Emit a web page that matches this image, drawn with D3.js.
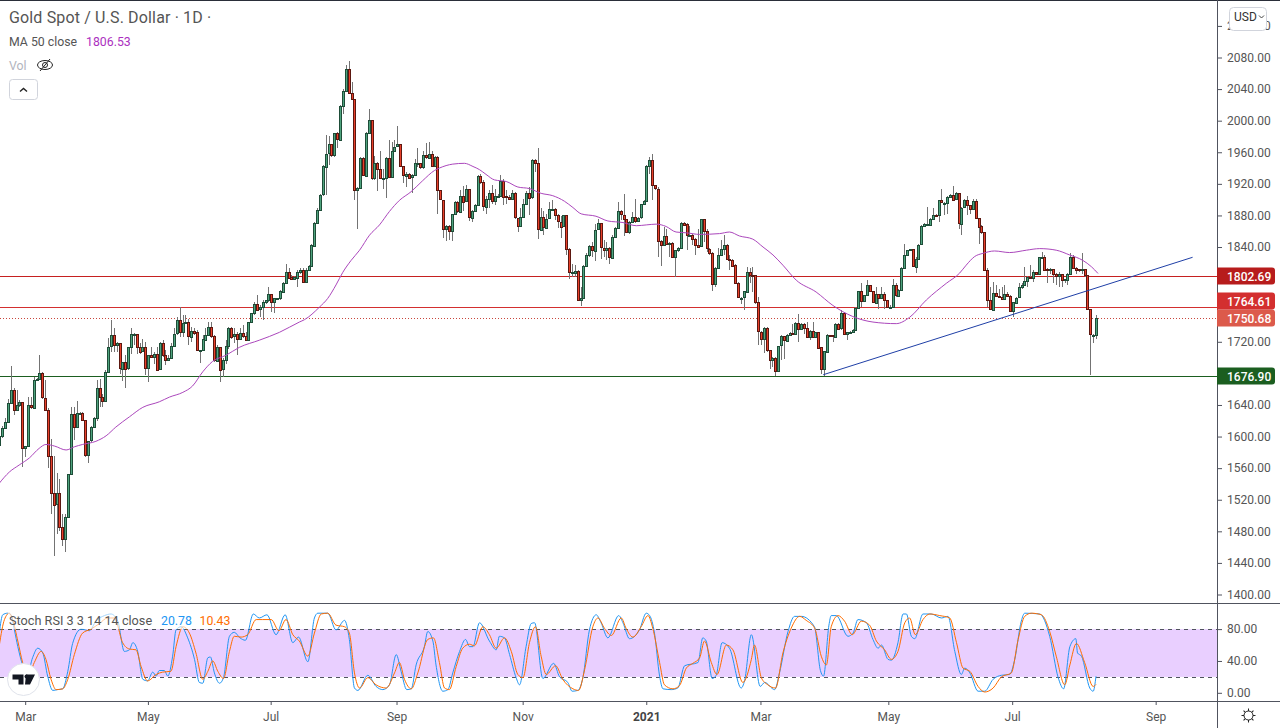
<!doctype html>
<html>
<head>
<meta charset="utf-8">
<script src="https://d3js.org/d3.v7.min.js"></script>
<style>
  html, body { margin: 0; padding: 0; background: #fff; overflow: hidden; }
  text { font-family: Roboto, "Open Sans", sans-serif; }
</style>
</head>
<body>
<div id="graphic"></div>
<script>
// daily candles. open = previous close
var firstOpen = 1590;
var closes = [
  1601,1611,1619,1643,1659,1634,1640,1644,1586,1588,
  1640,1637,1672,1673,1680,1649,1634,1576,1529,1514,
  1528,1485,1470,1498,1553,1629,1612,1630,1630,1621,
  1577,1595,1612,1623,1661,1650,1645,1682,1714,1728,
  1715,1718,1686,1695,1686,1713,1730,1730,1714,1708,
  1713,1686,1703,1701,1705,1685,1718,1703,1697,1700,
  1715,1730,1747,1732,1744,1745,1727,1734,1732,1709,
  1709,1723,1729,1739,1727,1696,1714,1685,1697,1715,
  1738,1727,1730,1724,1731,1727,1722,1745,
  1756,1768,1761,1764,1770,1773,1780,1770,1775,1775,
  1784,1795,1809,1802,1799,1802,1809,1811,1796,1811,
  1816,1842,1871,1887,1906,1942,1958,1970,1956,1984,
  1976,2019,2038,2066,2035,2027,1912,1915,1953,1931,
  1985,2001,1928,1947,1939,1928,1928,1953,1929,1962,
  1967,1970,1942,1931,1933,1928,1931,1946,1946,1941,
  1956,1953,1958,1943,1954,1912,1900,1863,1867,1861,
  1882,1897,1885,1905,1898,1913,1877,1886,1893,1930,
  1922,1891,1901,1908,1898,1904,1905,1924,1904,1903,
  1901,1908,1877,1867,1878,1895,1909,1903,1950,1946,
  1862,1878,1865,1876,1888,1888,1880,1872,1866,1880,
  1837,1808,1808,1810,1773,1776,1816,1830,1841,1836,
  1862,1870,1839,1836,1839,1827,1853,1864,1885,1881,
  1876,1859,1872,1878,1873,1877,1894,1898,1942,1950,
  1918,1914,1848,1843,1854,1844,1845,1827,1836,1839,
  1871,1869,1855,1855,1850,1843,1841,1875,1860,1838,
  1833,1794,1814,1830,
  1838,1843,1825,1824,1817,1794,1776,1776,1784,1809,
  1805,1804,1770,1733,1724,1738,1710,1697,1700,1683,
  1715,1727,1722,1729,1731,1730,1744,1737,1743,1738,
  1727,1734,1727,1733,1713,1685,1708,1729,1728,1727,
  1743,1737,1756,1730,1732,1733,1735,1763,1784,1771,
  1779,1792,1784,1770,1781,1776,1781,1773,1764,1764,
  1792,1779,1786,1814,1830,1836,1837,1815,1825,1843,
  1866,1869,1869,1876,1881,1880,1899,1896,1896,1903,
  1906,1900,1908,1870,1890,
  1899,1893,1888,1898,1877,1866,1859,1811,1773,1761,
  1782,1778,1777,1775,1781,1778,1759,1770,1776,1789,
  1792,1797,1802,1801,1808,1806,1827,1828,1812,1811,
  1812,1806,1803,1806,1798,1799,1806,1828,1814,1812,
  1811,1812,1804,1761,1729,1729,1750.68
];
var highs = [
  1606,1613,1623,1648,1689,1661,1659,1646,1644,1588,
  1650,1650,1675,1674,1703,1682,1671,1636,1597,1575,
  1554,1546,1502,1502,1553,1638,1637,1645,1631,1631,
  1621,1595,1614,1625,1671,1673,1654,1684,1725,1747,
  1737,1720,1718,1695,1703,1713,1738,1731,1730,1718,
  1724,1720,1703,1713,1707,1713,1720,1722,1709,1703,
  1718,1737,1751,1764,1754,1754,1749,1739,1737,1735,
  1710,1728,1737,1745,1745,1728,1716,1714,1699,1722,
  1739,1739,1737,1733,1737,1741,1733,1745,
  1756,1770,1779,1766,1773,1773,1789,1781,1776,1776,
  1785,1796,1818,1813,1804,1803,1811,1813,1813,1813,
  1817,1844,1872,1889,1907,1944,1982,1980,1971,1984,
  1986,2020,2040,2070,2076,2049,2028,1916,1954,1954,
  1986,2015,2001,1955,1948,1961,1939,1954,1976,1973,
  1976,1993,1970,1942,1935,1934,1932,1951,1966,1946,
  1962,1972,1973,1961,1955,1955,1912,1900,1868,1868,
  1882,1898,1898,1912,1917,1918,1913,1887,1894,1931,
  1933,1925,1904,1912,1918,1913,1907,1931,1926,1912,
  1906,1912,1910,1877,1889,1901,1911,1916,1952,1952,
  1965,1890,1885,1882,1897,1899,1889,1882,1879,1880,
  1880,1839,1818,1817,1811,1790,1817,1832,1842,1847,
  1869,1876,1870,1849,1847,1840,1855,1865,1897,1887,
  1907,1876,1873,1884,1901,1878,1894,1899,1944,1954,
  1958,1918,1916,1849,1865,1863,1847,1847,1836,1840,
  1872,1872,1871,1866,1857,1851,1863,1876,1861,1863,
  1839,1834,1815,1839,
  1849,1855,1844,1830,1825,1818,1796,1777,1784,1815,
  1813,1815,1804,1777,1734,1739,1739,1710,1701,1701,
  1715,1728,1727,1730,1733,1743,1745,1755,1744,1744,
  1745,1735,1745,1733,1733,1713,1708,1730,1729,1729,
  1744,1744,1760,1757,1732,1734,1736,1764,1784,1795,
  1779,1798,1792,1784,1789,1781,1790,1783,1773,1766,
  1800,1794,1787,1815,1844,1836,1837,1837,1827,1844,
  1868,1870,1891,1877,1889,1882,1899,1913,1897,1904,
  1907,1917,1910,1908,1891,
  1901,1904,1893,1901,1901,1877,1868,1859,1813,1790,
  1796,1792,1787,1790,1792,1783,1779,1770,1777,1795,
  1794,1815,1803,1817,1811,1809,1828,1834,1830,1813,
  1813,1809,1807,1809,1800,1800,1807,1832,1830,1815,
  1812,1832,1812,1804,1762,1730,1754
];
var lows = [
  1580,1598,1610,1618,1642,1627,1632,1637,1561,1574,
  1588,1635,1637,1671,1673,1648,1633,1560,1502,1449,
  1477,1481,1462,1454,1498,1553,1596,1612,1628,1620,
  1574,1566,1593,1612,1620,1637,1638,1644,1682,1707,
  1707,1707,1679,1670,1661,1684,1705,1716,1705,1705,
  1707,1678,1669,1701,1692,1684,1684,1701,1690,1697,
  1699,1713,1728,1726,1726,1743,1716,1720,1728,1709,
  1693,1708,1722,1728,1725,1694,1694,1669,1676,1692,
  1711,1724,1718,1703,1722,1725,1722,1722,
  1748,1754,1760,1752,1748,1768,1770,1758,1756,1773,
  1773,1782,1794,1800,1798,1798,1790,1806,1795,1796,
  1810,1815,1840,1870,1887,1905,1906,1944,1954,1954,
  1965,1976,2009,2037,2035,2026,1900,1863,1914,1930,
  1944,1984,1925,1925,1911,1927,1914,1902,1928,1929,
  1961,1967,1941,1921,1916,1927,1908,1930,1941,1939,
  1939,1952,1953,1942,1942,1882,1899,1851,1848,1849,
  1848,1882,1883,1884,1885,1897,1873,1872,1885,1893,
  1920,1886,1882,1889,1895,1893,1904,1906,1893,1894,
  1900,1899,1876,1859,1866,1877,1894,1880,1901,1935,
  1850,1861,1855,1864,1875,1888,1874,1864,1852,1865,
  1830,1800,1802,1802,1773,1765,1775,1815,1827,1828,
  1822,1861,1825,1827,1823,1818,1825,1853,1864,1874,
  1854,1858,1856,1870,1870,1872,1876,1893,1897,1933,
  1899,1912,1827,1816,1841,1844,1827,1827,1802,1834,
  1838,1868,1836,1855,1842,1830,1840,1840,1846,1834,
  1830,1784,1790,1813,
  1830,1830,1825,1811,1815,1794,1775,1768,1760,1784,
  1795,1783,1768,1716,1716,1706,1707,1686,1688,1677,
  1683,1697,1698,1720,1728,1728,1730,1720,1736,1730,
  1726,1722,1726,1726,1711,1679,1677,1706,1726,1720,
  1727,1735,1735,1729,1722,1730,1733,1735,1762,1764,
  1770,1778,1783,1769,1769,1762,1775,1761,1763,1763,
  1763,1777,1778,1786,1813,1830,1835,1815,1807,1825,
  1842,1865,1868,1868,1876,1878,1872,1896,1880,1882,
  1902,1899,1899,1863,1855,
  1890,1880,1882,1887,1876,1844,1857,1811,1764,1760,
  1760,1777,1775,1773,1773,1777,1758,1751,1768,1775,
  1787,1792,1790,1800,1796,1804,1806,1825,1811,1794,
  1806,1794,1792,1790,1790,1794,1792,1806,1813,1806,
  1808,1806,1802,1760,1677.6,1718,1723
];

// MA 50 readings as [bar, value], on the same 0-386 bar grid as the time ticks
var maPoints = [
  [0,1541],[3.5,1555],[7,1564],[10.6,1573],[14,1585],[16.4,1590],[19.4,1588],[23.5,1583],[26.4,1587],[29.3,1590],
  [34,1594],[37.6,1601],[41,1612],[45.8,1625],[50.5,1637],[56.3,1644],[59.9,1650],[64.6,1656],[68,1664],[71.6,1682],
  [75,1695],[79.8,1703],[84.5,1713],[91.5,1722],[98.6,1732],[105.6,1745],[107.4,1748],[112.7,1764],[115.6,1775],[118.5,1792],
  [120.9,1808],[123.8,1823],[126.8,1836],[130.3,1855],[133.8,1868],[137.3,1885],[140.8,1899],[144.9,1910],[149,1924],[153.2,1937],
  [154.9,1940],[159.6,1945],[163.7,1946],[166.7,1942],[169,1938],[171.3,1932],[174.3,1925],[178.4,1923],[182.5,1916],[186.6,1914],
  [190.7,1908],[194.8,1905],[198.9,1898],[201.9,1890],[204.8,1882],[210,1879],[214.2,1873],[219.5,1871],[224.2,1867],[227.7,1868],
  [231.2,1869],[234.7,1866],[238.2,1859],[241.8,1858],[246.5,1856],[253.5,1857],[257,1859],[260.5,1854],[265.2,1850],[268.8,1840],
  [272.3,1830],[275.8,1817],[280.5,1798],[287.5,1783],[293.4,1766],[300.4,1752],[307.5,1745],[315.7,1743],[320.4,1751],[326.3,1773],
  [333.3,1794],[338,1807],[340.3,1817],[343.3,1828],[346.2,1832],[350.3,1835],[355.6,1833],[361.5,1836],[366.2,1838],[372,1836],
  [376.7,1830],[381.4,1823],[384.4,1815],[386.7,1806.53]
];

// Stoch RSI %K and %D readings as [bar, value]
var stochK = [
  [0,75],[1.2,98],[2.9,100],[4.1,98],[5.3,79],[6.5,58],[8.2,35],[10,25],[11.7,44],[13.5,56],[15.3,50],[17,21],[18.8,3],[20.5,4],[22.3,5],
  [24.1,27],[25.8,62],[28.8,80],[31.7,78],[34,90],[37,97],[39.3,99],[41.7,90],[44,52],[45.8,54],[47,63],[48.7,52],[50.5,17],[52.2,15],[54,26],
  [55.2,21],[56.3,28],[58.1,28],[59.3,21],[61,46],[62.2,79],[64,83],[66.3,69],[68.7,42],[70.4,13],[71.6,12],[73.4,44],[74.3,45],[75.7,25],[77.5,12],
  [78.9,19],[81,71],[82.7,76],[84.7,69],[86.6,66],[89.4,99],[91.5,94],[94.2,98],[97.4,73],[100.6,98],[103.3,63],[105.3,70],[108.6,39],[110.9,94],[112.1,100],
  [115.6,100],[118.5,79],[121.5,91],[123.2,67],[125,6],[126.2,3],[129.7,22],[132.6,8],[135,4],[137.3,10],[139.7,48],[141.4,27],[143.4,4],[145,5],[146.7,35],
  [149.6,58],[150.8,77],[152.6,65],[153.7,35],[156.1,2],[157.9,4],[159.6,25],[162,52],[164.1,67],[165.5,58],[166.7,58],[169,88],[172.5,65],[174.9,54],[176,71],
  [177.8,69],[179.6,48],[181.9,19],[183.1,10],[185.4,58],[187.2,87],[188.4,88],[191.3,18],[195.1,37],[197.2,20],[200.1,13],[201.6,2],[203.6,3],[205.4,19],[207.7,79],
  [210.1,98],[211.8,88],[214.2,69],[218,97],[219.5,88],[221.8,68],[225.3,79],[227.7,100],[228.9,97],[230.6,75],[232.4,21],[233.6,5],[236.5,4],[238.8,6],[241.2,34],
  [245.9,38],[247.6,69],[248.8,65],[250.9,18],[252.3,22],[254.4,63],[257,56],[261.1,6],[262.3,15],[264.7,73],[267.8,8],[269.4,13],[272.9,4],[274.6,25],[277.6,77],
  [279.9,96],[282.3,96],[286.9,83],[289,28],[290.1,21],[292,85],[292.8,97],[294.6,97],[298.7,71],[300.5,75],[302.2,92],[305.2,88],[307.5,67],[309.3,56],[310.5,60],
  [312.8,42],[314,41],[316.3,63],[318.1,99],[319.3,99],[321,71],[322.2,68],[325.1,99],[328,99],[331.6,94],[333.9,96],[336.3,52],[338.6,23],[339.8,31],[341.6,25],
  [344.5,2],[346.8,2],[349.8,17],[352.7,22],[355.6,23],[357.4,42],[359.7,90],[360.9,100],[366.2,99],[369.7,71],[372.7,19],[374.6,5],[376.8,58],[378.9,68],[379.5,50],
  [380.9,46],[383.8,6],[385,2],[386,20.78]
];
var stochD = [
  [0,60],[1.8,92],[3.5,100],[4.7,92],[6.5,65],[8.2,38],[10,19],[12.3,38],[14.7,52],[16.4,42],[18.2,17],[20,4],[22.3,5],[24.1,17],[26.4,48],
  [29.3,75],[32.3,80],[35.2,87],[38.1,94],[40.5,94],[43.4,63],[45.8,55],[48.1,54],[49.9,33],[52.2,15],[55.2,23],[57.5,26],[60.4,27],[62.2,58],[64.6,83],
  [66.9,75],[69.2,50],[71.6,17],[73.4,27],[75.1,40],[76.9,27],[78.9,18],[81,52],[82.7,71],[85.1,70],[87.4,73],[90.4,92],[92.7,92],[95.7,92],[98.4,78],
  [100.9,92],[103.3,73],[105.6,65],[108.6,46],[110.9,75],[113.3,99],[115.6,100],[118.5,85],[121.5,83],[123.2,75],[125,25],[126.8,6],[129.7,19],[132.6,10],[136.2,6],
  [139.1,25],[140.8,38],[142.6,17],[145,5],[147.3,25],[150.8,67],[152.8,69],[154.9,38],[156.7,6],[158.4,4],[160.8,33],[163.1,56],[165.5,61],[167.2,59],[170.2,83],
  [172.5,73],[174.9,56],[177.8,69],[180.2,52],[182.5,23],[184.3,19],[186.6,63],[188.7,83],[190.7,46],[192.5,23],[195.8,34],[198.3,17],[201.9,5],[203.9,3],[206,29],
  [208.9,83],[210.7,94],[213,81],[215.4,72],[218.9,94],[220.6,81],[223,70],[225.9,83],[228.3,97],[230,81],[232.4,38],[234.1,10],[237.1,5],[239.4,9],[241.8,31],
  [244.1,37],[246.5,44],[248.2,65],[250.6,38],[252.6,23],[255.9,60],[258.2,54],[261.7,13],[264.7,42],[265.8,60],[268.2,19],[270.5,10],[273.2,6],[275.8,50],[278.7,81],
  [281.7,96],[284,91],[287,81],[289.3,46],[291.1,35],[292.8,83],[295.2,97],[297.5,90],[300.2,73],[303.4,90],[306.3,85],[308.7,65],[311.6,54],[314,42],[316.3,52],
  [318.7,88],[320.4,94],[322.4,73],[325.1,92],[327.5,99],[331,97],[334.5,94],[336.9,63],[339.2,31],[341.6,27],[344.5,8],[346.8,1],[349.8,6],[352.7,20],[356.2,25],
  [358.6,67],[360.9,96],[363.3,100],[366.8,98],[369.7,77],[372,46],[375,10],[376.8,35],[379.1,62],[382,38],[385,8],[386,10.43]
];

// 1800, 1760 and 1680 sit behind the level tags, so they are not listed
var priceTicks = [2120,2080,2040,2000,1960,1920,1880,1840,1720,1640,1600,1560,1520,1480,1440,1400];
var stochTicks = [80,40,0];
var timeTickBars = [9.1,52.3,95.5,139.8,184.2,227.7,267.9,312.9,356.5,407];
var timeTickLabels = ["Mar","May","Jul","Sep","Nov","2021","Mar","May","Jul","Sep"];

// horizontal levels: value, line colour, tag colour, tag centre offset
var levels = [
  {value: 1802.69, color: "#c62020", tag: "#b71c1c", shift: 0},
  {value: 1764.61, color: "#d32f2f", tag: "#d32f2f", shift: -6},
  {value: 1676.90, color: "#1b5e20", tag: "#1b5e20", shift: 0}
];
var lastPrice = 1750.68;
var trendBars = [290, 420];
var trendValues = [1678.3, 1827];

var axisX = 1217;
var width = 1280, height = 728;

var x = d3.scaleLinear().domain([0, 386]).range([-0.67, 1096]);
var y = d3.scaleLinear().domain([1400, 2080]).range([594.5, 57.5]);
var yStoch = d3.scaleLinear().domain([0, 100]).range([692.8, 613.2]);
var barStep = 386 / (closes.length - 1);

var svg = d3.select("#graphic").append("svg")
  .attr("width", width)
  .attr("height", height)
  .style("display", "block");

svg.append("rect").attr("width", width).attr("height", height).attr("fill", "#fff");

// clip panes
var defs = svg.append("defs");
defs.append("clipPath").attr("id", "mainClip").append("rect")
  .attr("x", 0).attr("y", 1).attr("width", axisX).attr("height", 602);
defs.append("clipPath").attr("id", "stochClip").append("rect")
  .attr("x", 0).attr("y", 604).attr("width", axisX).attr("height", 97);

var main = svg.append("g").attr("clip-path", "url(#mainClip)");

// price levels
main.selectAll(".level").data(levels).enter().append("line")
  .attr("x1", 0).attr("x2", axisX)
  .attr("y1", d => Math.round(y(d.value)) + 0.5)
  .attr("y2", d => Math.round(y(d.value)) + 0.5)
  .attr("stroke", d => d.color)
  .attr("stroke-width", 1);

main.append("line")
  .attr("x1", 0).attr("x2", axisX)
  .attr("y1", Math.round(y(lastPrice)) + 0.5)
  .attr("y2", Math.round(y(lastPrice)) + 0.5)
  .attr("stroke", "#c9463c")
  .attr("stroke-dasharray", "1 2");

// candles
var candles = closes.map(function (c, i) {
  return {
    i: i,
    open: i === 0 ? firstOpen : closes[i - 1],
    close: c,
    high: highs[i],
    low: lows[i]
  };
});
var cx = d => Math.round(x(d.i * barStep));

var candleG = main.append("g").attr("shape-rendering", "crispEdges");
candleG.selectAll(".wick").data(candles).enter().append("rect")
  .attr("x", cx)
  .attr("width", 1)
  .attr("y", d => y(d.high))
  .attr("height", d => y(d.low) - y(d.high))
  .attr("fill", "#737373");
candleG.selectAll(".body").data(candles).enter().append("rect")
  .attr("x", d => cx(d) - 1)
  .attr("width", 3)
  .attr("y", d => Math.round(y(Math.max(d.open, d.close))))
  .attr("height", d => Math.max(2, Math.round(Math.abs(y(d.open) - y(d.close))) + 1))
  .attr("fill", d => d.close >= d.open ? "#1e4d38" : "#5c1710");
candleG.selectAll(".fill").data(candles).enter().append("rect")
  .attr("x", cx)
  .attr("width", 1)
  .attr("y", d => Math.round(y(Math.max(d.open, d.close))) + 1)
  .attr("height", d => Math.max(0, Math.round(Math.abs(y(d.open) - y(d.close))) - 1))
  .attr("fill", d => d.close >= d.open ? "#4fa37e" : "#e8402a");

// MA 50
var maLine = d3.line().x(d => x(d[0])).y(d => y(d[1])).curve(d3.curveMonotoneX);
main.append("path").attr("d", maLine(maPoints))
  .attr("fill", "none").attr("stroke", "#ab47bc").attr("stroke-width", 1);

// trend line
main.append("line")
  .attr("x1", x(trendBars[0])).attr("y1", y(trendValues[0]))
  .attr("x2", x(trendBars[1])).attr("y2", y(trendValues[1]))
  .attr("stroke", "#1f3fa6").attr("stroke-width", 1);

// stoch pane
var stoch = svg.append("g").attr("clip-path", "url(#stochClip)");
stoch.append("rect")
  .attr("x", 0).attr("width", axisX)
  .attr("y", yStoch(80)).attr("height", yStoch(20) - yStoch(80))
  .attr("fill", "#e9cfff");
stoch.selectAll(".bound").data([80, 20]).enter().append("line")
  .attr("x1", 0).attr("x2", axisX)
  .attr("y1", d => Math.round(yStoch(d)) + 0.5)
  .attr("y2", d => Math.round(yStoch(d)) + 0.5)
  .attr("stroke", "#50535e")
  .attr("stroke-dasharray", "4 4");
var stochLine = d3.line().x(d => x(d[0])).y(d => yStoch(d[1])).curve(d3.curveMonotoneX);
stoch.append("path").attr("d", stochLine(stochK))
  .attr("fill", "none").attr("stroke", "#2196f3").attr("stroke-width", 1);
stoch.append("path").attr("d", stochLine(stochD))
  .attr("fill", "none").attr("stroke", "#ff6d00").attr("stroke-width", 1);

// frame
var frameColor = "#50535e";
svg.append("rect").attr("width", width).attr("height", 1).attr("fill", "#2a2e39");
svg.append("rect").attr("x", 0).attr("y", 603).attr("width", width).attr("height", 1).attr("fill", frameColor);
svg.append("rect").attr("x", 0).attr("y", 701).attr("width", width).attr("height", 1).attr("fill", frameColor);
svg.append("rect").attr("x", axisX).attr("y", 0).attr("width", 1).attr("height", height).attr("fill", frameColor);

// axes
var priceAxis = d3.axisRight(y).tickValues(priceTicks).tickSize(5).tickPadding(5)
  .tickFormat(d3.format(".2f"));
var gPrice = svg.append("g").attr("transform", "translate(" + axisX + ",0)").call(priceAxis);

var stochAxis = d3.axisRight(yStoch).tickValues(stochTicks).tickSize(5).tickPadding(5)
  .tickFormat(d3.format(".2f"));
var gStoch = svg.append("g").attr("transform", "translate(" + axisX + ",0)").call(stochAxis);

var timeAxis = d3.axisBottom(x).tickValues(timeTickBars).tickSize(4).tickPadding(7)
  .tickFormat((d, i) => timeTickLabels[i]);
var gTime = svg.append("g").attr("transform", "translate(0,701)").call(timeAxis);

[gPrice, gStoch, gTime].forEach(function (g) {
  g.select(".domain").remove();
  g.selectAll("line").attr("stroke", frameColor);
  g.selectAll("text").attr("fill", "#555").style("font-size", "12px").style("font-family", "Roboto, sans-serif");
});
gTime.selectAll("text")
  .filter((d, i) => timeTickLabels[i] === "2021")
  .attr("fill", "#444").style("font-weight", "bold");

// right hand tags
function tag(value, color, shift) {
  var cy = Math.round(y(value)) + shift;
  svg.append("path")
    .attr("d", "M" + axisX + "," + (cy - 8.5) + "h55a3,3 0 0 1 3,3v11a3,3 0 0 1 -3,3h-55z")
    .attr("fill", color);
  svg.append("rect").attr("x", axisX).attr("y", Math.round(y(value))).attr("width", 5).attr("height", 1).attr("fill", color);
  svg.append("text")
    .attr("x", 1227).attr("y", cy + 4.5)
    .attr("fill", "#fff")
    .style("font-size", "12px").style("font-weight", 500)
    .text(d3.format(".2f")(value));
}
tag(lastPrice, "#dc5a4b", 0);
levels.forEach(d => tag(d.value, d.tag, d.shift));

// usd button
svg.append("rect")
  .attr("x", 1229.5).attr("y", 7.5).attr("width", 37).attr("height", 23).attr("rx", 4)
  .attr("fill", "#fff").attr("stroke", "#d1d4dc");
svg.append("text").attr("x", 1234).attr("y", 21).attr("fill", "#333").style("font-size", "12px").text("USD");
svg.append("path").attr("d", "M1259,15.5l2.5,2.5l2.5,-2.5").attr("fill", "none").attr("stroke", "#444");

// legend
var legend = svg.append("g");
legend.append("text").attr("x", 9).attr("y", 23).attr("fill", "#555").style("font-size", "16px").style("letter-spacing", "0.15px")
  .text("Gold Spot / U.S. Dollar \u00b7 1D \u00b7");
legend.append("text").attr("x", 9).attr("y", 46).attr("fill", "#555").style("font-size", "12.3px").text("MA 50 close");
legend.append("text").attr("x", 86).attr("y", 46).attr("fill", "#ab30c0").style("font-size", "12.3px").text("1806.53");
legend.append("text").attr("x", 9).attr("y", 70).attr("fill", "#b2b5be").style("font-size", "12.3px").text("Vol");

// hidden eye
var eye = legend.append("g").attr("transform", "translate(45,65)").attr("fill", "none").attr("stroke", "#222");
eye.append("ellipse").attr("rx", 7.5).attr("ry", 4.5);
eye.append("circle").attr("r", 2.5);
eye.append("path").attr("d", "M-5,6L5,-6");

legend.append("rect").attr("x", 9.5).attr("y", 79.5).attr("width", 28).attr("height", 20).attr("rx", 3)
  .attr("fill", "#fff").attr("stroke", "#d1d4dc");
legend.append("path").attr("d", "M20,91.5l3.5,-3l3.5,3").attr("fill", "none").attr("stroke", "#222").attr("stroke-width", 1.4);

// stoch legend with its light backdrop
legend.append("rect").attr("x", 8).attr("y", 612).attr("width", 225).attr("height", 17).attr("fill", "#fff").attr("opacity", 0.6);
legend.append("text").attr("x", 9).attr("y", 625).attr("fill", "#555").style("font-size", "12.7px").text("Stoch RSI 3 3 14 14 close");
legend.append("text").attr("x", 161).attr("y", 625).attr("fill", "#2196f3").style("font-size", "12.3px").text("20.78");
legend.append("text").attr("x", 199.5).attr("y", 625).attr("fill", "#ff6d00").style("font-size", "12.3px").text("10.43");

// logo
var logo = svg.append("g").attr("transform", "translate(23.5,679.5)");
logo.append("circle").attr("r", 16).attr("fill", "#fff").attr("stroke", "#e0e3eb");
logo.append("path").attr("d", "M-11,-5h11v10h-5v-5h-6z M2.5,-5h9l-5,10h-5z").attr("fill", "#131722");
logo.append("circle").attr("cx", 3).attr("cy", -3).attr("r", 2).attr("fill", "#131722");

// gear
var gear = svg.append("g").attr("transform", "translate(1248.5,715.5)").attr("fill", "none").attr("stroke", "#222");
gear.append("circle").attr("r", 4.5);
d3.range(0, 360, 45).forEach(function (a) {
  gear.append("line").attr("x1", 4.5).attr("x2", 7).attr("transform", "rotate(" + a + ")");
});
</script>
</body>
</html>
